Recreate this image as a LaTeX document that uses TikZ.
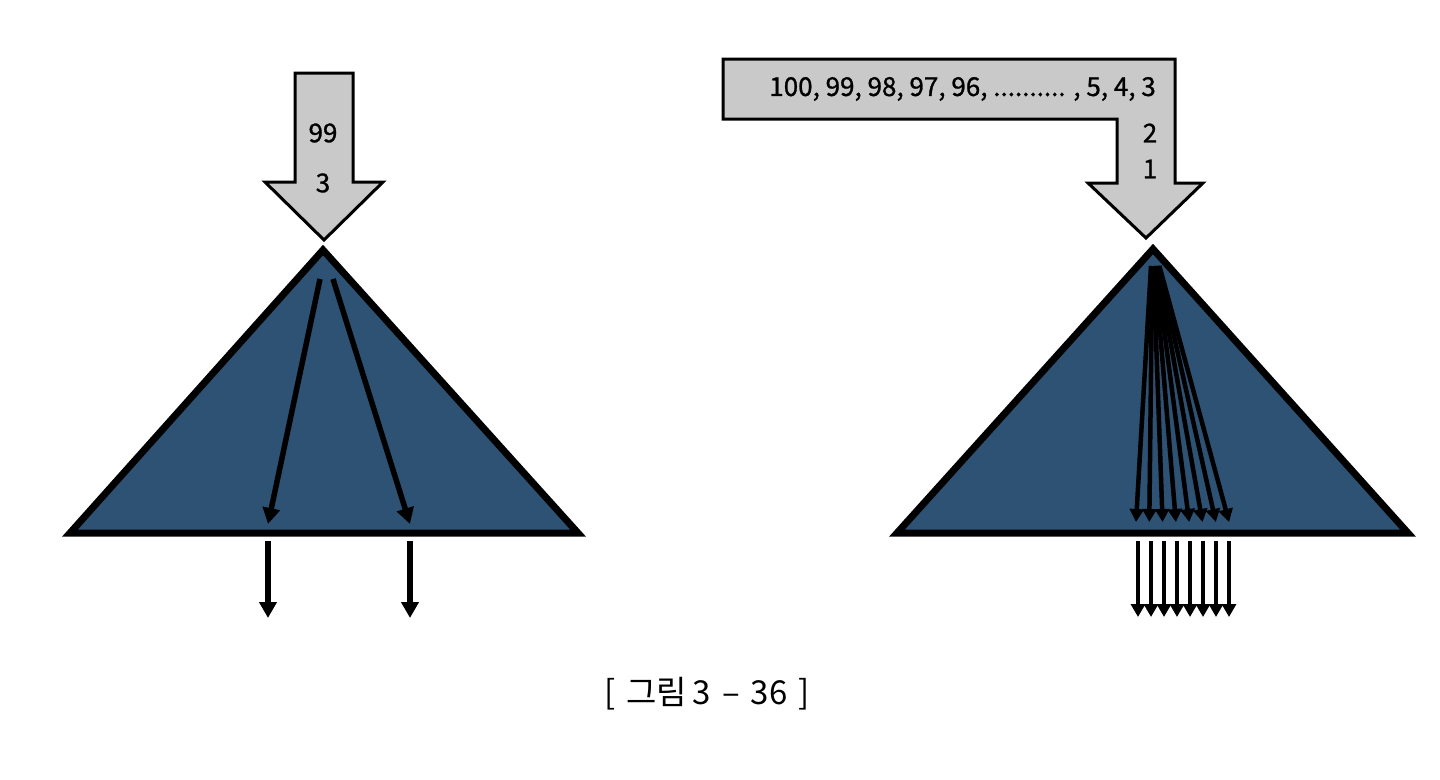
\documentclass[tikz,border=0pt]{standalone}
\usepackage{fontspec}
\setmainfont{Noto Sans CJK KR}
\newfontfamily\lblfont{Noto Sans CJK KR}[FakeBold=1]
\usetikzlibrary{arrows.meta}
\definecolor{tri}{HTML}{2D5273}
\definecolor{arr}{HTML}{C9C9C9}
\tikzset{
  trishape/.style={fill=tri, draw=black, line width=7pt, line join=miter},
  bigarrow/.style={fill=arr, draw=black, line width=3pt, line join=miter},
  ray/.style={draw=black, line width=5.5pt, -{Triangle[length=16pt,width=17pt]}},
  thinray/.style={draw=black, line width=4.5pt, -{Triangle[length=13pt,width=14pt]}},
  lbl/.style={font=\lblfont\fontsize{26}{26}\selectfont, inner sep=0pt},
}
\begin{document}
\begin{tikzpicture}[x=1pt,y=-1pt]
\useasboundingbox (0,0) rectangle (1440,779);
% left
\draw[bigarrow] (295,73) -- (353,73) -- (353,182) -- (383,182) -- (324,240) -- (265,182) -- (295,182) -- cycle;
\node[lbl] (l99) at (323,133) {99};
\node[lbl] (l3) at (323,183) {3};
\draw[trishape] (323,250) -- (578,533) -- (70,533) -- cycle;
\coordinate (la1) at (320,279);
\coordinate (la2) at (333,279);
\coordinate (lb1) at (268,524);
\coordinate (lb2) at (410,524);
\draw[ray] (la1) -- (lb1);
\draw[ray] (la2) -- (lb2);
\coordinate (lc1) at (268,541);
\coordinate (lc2) at (410,541);
\coordinate (ld1) at (268,618);
\coordinate (ld2) at (410,618);
\draw[ray] (lc1) -- (ld1);
\draw[ray] (lc2) -- (ld2);
% right
\draw[bigarrow] (723,59) -- (1175,59) -- (1175,183) -- (1203,183) -- (1146,238) -- (1088,183) -- (1117,183) -- (1117,119) -- (723,119) -- cycle;
\node[lbl, anchor=east] (rtxt) at (1156,89) {100, 99, 98, 97, 96, .......... , 5, 4, 3};
\node[lbl] (r2) at (1150,133) {2};
\node[lbl] (r1) at (1150,169) {1};
\draw[trishape] (1153,249) -- (1408,533) -- (897,533) -- cycle;
\foreach \i in {0,...,7} {
  \coordinate (rs\i) at ({1151+1.2*\i},266);
  \coordinate (re\i) at ({1136+13.3*\i},522);
  \draw[thinray] (rs\i) -- (re\i);
  \coordinate (rt\i) at ({1138+13*\i},541);
  \coordinate (rb\i) at ({1138+13*\i},617);
  \draw[thinray] (rt\i) -- (rb\i);
}
% caption
\node[font=\fontsize{33}{33}\selectfont, inner sep=0pt] (cap) at (707,694) {[\,\,그림\,3\,\,–\,\,36\,\,]};
\end{tikzpicture}
\end{document}
